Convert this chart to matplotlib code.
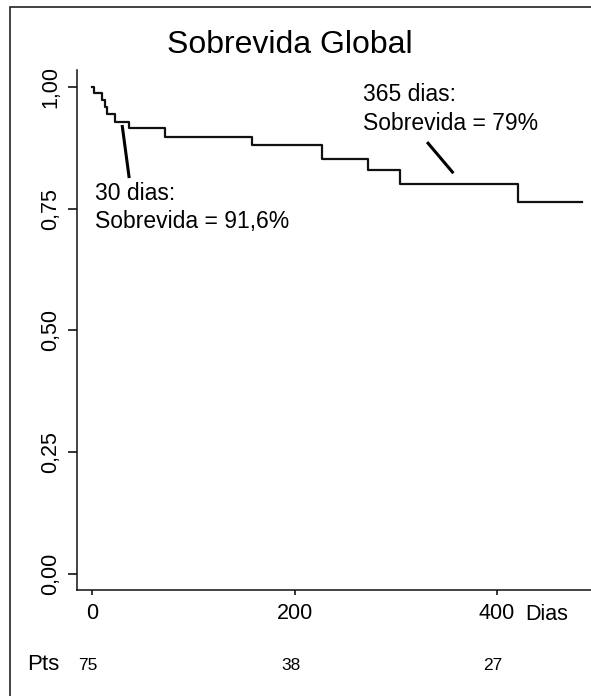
import matplotlib
matplotlib.use('Agg')
import matplotlib.pyplot as plt
import matplotlib.transforms as mtransforms
from matplotlib.patches import Rectangle
import numpy as np

plt.rcParams['font.family'] = ['Liberation Sans', 'DejaVu Sans']

# curva de Kaplan-Meier (dias, sobrevida)
dias = [0, 2, 10, 13, 15, 23, 36, 72, 158, 227, 273, 304, 421, 484]
sobrevida = [1.0, 0.987, 0.973, 0.960, 0.945, 0.928, 0.915, 0.898, 0.880,
             0.853, 0.829, 0.800, 0.764, 0.764]

# eixo y
y_ticks = [0.0, 0.25, 0.50, 0.75, 1.0]
y_labels = ['0,00', '0,25', '0,50', '0,75', '1,00']

# eixo x
x_ticks = [0, 200, 400]
x_labels = ['0', '200', '400']

# pacientes em risco
pts_dias = [0, 200, 400]
pts_n = ['75', '38', '27']

# anotacoes
nota_30 = '30 dias:\nSobrevida = 91,6%'
nota_365 = '365 dias:\nSobrevida = 79%'

fig = plt.figure(figsize=(5.91, 6.96), dpi=100)
ax = fig.add_axes([77/591, 106/696, 1 - 77/591, 520/696])

ax.step(dias, sobrevida, where='post', color='#111111', lw=1.6)

ax.set_xlim(-15, 493)
ax.set_ylim(-0.033, 1.035)

ax.set_yticks(y_ticks)
ax.set_yticklabels(y_labels, rotation=90, va='center', fontsize=15.5)
ax.set_xticks(x_ticks)
ax.set_xticklabels(x_labels, fontsize=15.5)
ax.tick_params(axis='y', length=6.5, width=1.1, pad=5)
ax.tick_params(axis='x', length=3.5, width=1.1, pad=6)

for s in ['top', 'right']:
    ax.spines[s].set_visible(False)
for s in ['left', 'bottom']:
    ax.spines[s].set_linewidth(1.1)
    ax.spines[s].set_color('#111111')

# linhas indicadoras
ax.plot([29.6, 36.6], [0.922, 0.813], color='black', lw=2.2, solid_capstyle='butt')
ax.plot([331, 357], [0.887, 0.823], color='black', lw=2.2, solid_capstyle='butt')

ax.text(3, 0.753, nota_30, fontsize=16.5, ha='left', va='center', linespacing=1.3)
ax.text(268, 0.955, nota_365, fontsize=16.5, ha='left', va='center', linespacing=1.3)

fig.text(290/591, 1 - 45/696, 'Sobrevida Global', fontsize=23, ha='center', va='center')
fig.text(525/591, 1 - 614/696, 'Dias', fontsize=15.5, ha='left', va='center')

# linha de pacientes
fig.text(43/591, 1 - 665/696, 'Pts', fontsize=16, ha='center', va='center')
trans = mtransforms.blended_transform_factory(ax.transData, fig.transFigure)
for d, n in zip(pts_dias, pts_n):
    ax.text(d - 4, 1 - 665/696, n, transform=trans, fontsize=12.5, ha='center', va='center',
            clip_on=False)

# moldura externa
fig.add_artist(Rectangle((10/591, -0.1), 1.2, 1.1 - 7/696, transform=fig.transFigure,
                         fill=False, edgecolor='#222222', lw=1.2, clip_on=False))

fig.savefig('out.png', dpi=100)
